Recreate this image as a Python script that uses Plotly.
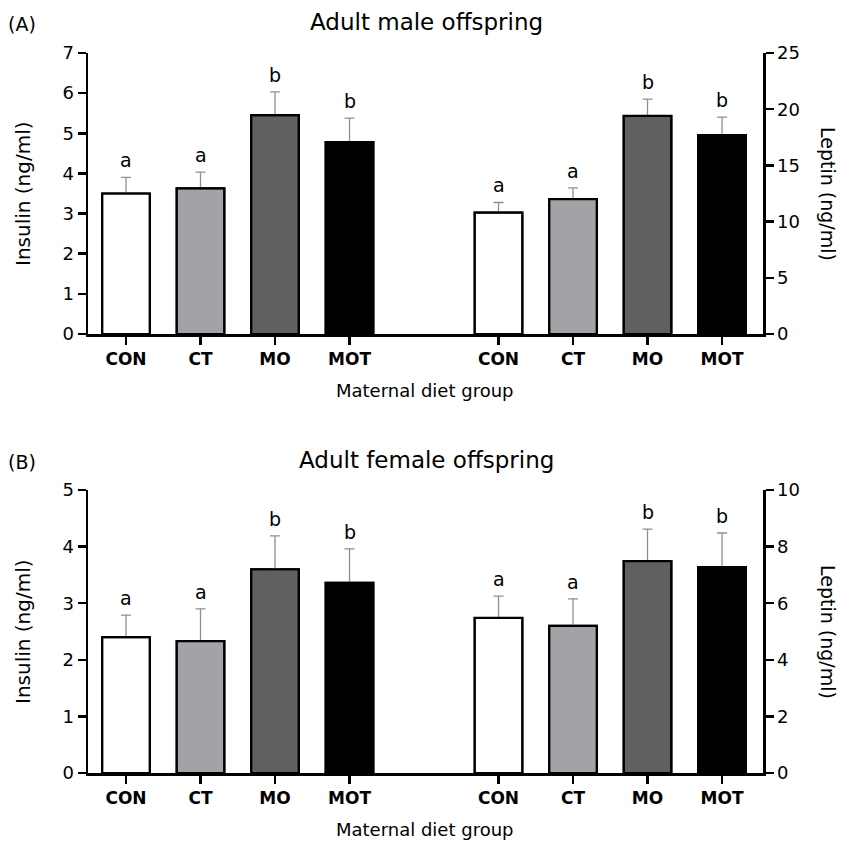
import plotly.graph_objects as go

# ---------------- data ----------------
categories = ["CON", "CT", "MO", "MOT"]
left_pos = [0, 1, 2, 3]
right_pos = [5, 6, 7, 8]

male_insulin = [3.50, 3.63, 5.45, 4.78]
male_insulin_err = [0.40, 0.40, 0.58, 0.60]
male_insulin_sig = ["a", "a", "b", "b"]

male_leptin = [10.8, 12.0, 19.4, 17.7]
male_leptin_err = [0.9, 1.0, 1.5, 1.6]
male_leptin_sig = ["a", "a", "b", "b"]

female_insulin = [2.40, 2.33, 3.60, 3.36]
female_insulin_err = [0.39, 0.57, 0.59, 0.60]
female_insulin_sig = ["a", "a", "b", "b"]

female_leptin = [5.48, 5.20, 7.49, 7.28]
female_leptin_err = [0.77, 0.95, 1.13, 1.20]
female_leptin_sig = ["a", "a", "b", "b"]

bar_colors = ["#ffffff", "#a2a2a7", "#606060", "#000000"]

W, H = 841, 843
FONT = "DejaVu Sans"

def px(x):
    return x / W

def py(y):
    return 1 - y / H

x_dom = [px(88), px(763)]
domA = [py(334), py(53)]
domB = [py(773), py(490)]

fig = go.Figure()

def add_bars(xpos, vals, errs, xa, ya):
    # filled bars carrying the (upward-only) error bars
    fig.add_trace(go.Bar(
        x=xpos, y=vals, xaxis=xa, yaxis=ya, width=0.64,
        marker=dict(color=bar_colors, line=dict(color="black", width=2)),
        error_y=dict(type="data", array=errs, arrayminus=[0] * len(errs),
                     symmetric=False, color="#8f8f8f", thickness=1.3, width=5),
        showlegend=False, hoverinfo="skip",
    ))
    # outline on top so the bar edge stays crisp black
    fig.add_trace(go.Bar(
        x=xpos, y=vals, xaxis=xa, yaxis=ya, width=0.64,
        marker=dict(color="rgba(0,0,0,0)", line=dict(color="black", width=2.2)),
        showlegend=False, hoverinfo="skip",
    ))

add_bars(left_pos, male_insulin, male_insulin_err, "x", "y")
add_bars(right_pos, male_leptin, male_leptin_err, "x", "y2")
add_bars(left_pos, female_insulin, female_insulin_err, "x2", "y3")
add_bars(right_pos, female_leptin, female_leptin_err, "x2", "y4")

annotations = []

def add_sig(xpos, vals, errs, sigs, xref, yref):
    for xp, v, e, s in zip(xpos, vals, errs, sigs):
        annotations.append(dict(
            x=xp, y=v + e, xref=xref, yref=yref, text=s, showarrow=False,
            yanchor="bottom", xanchor="center", yshift=4,
            font=dict(family=FONT, size=19, color="black")))

add_sig(left_pos, male_insulin, male_insulin_err, male_insulin_sig, "x", "y")
add_sig(right_pos, male_leptin, male_leptin_err, male_leptin_sig, "x", "y2")
add_sig(left_pos, female_insulin, female_insulin_err, female_insulin_sig, "x2", "y3")
add_sig(right_pos, female_leptin, female_leptin_err, female_leptin_sig, "x2", "y4")

def txt(x, y, text, size, xanchor="center", angle=0):
    annotations.append(dict(
        x=px(x), y=py(y), xref="paper", yref="paper", text=text, showarrow=False,
        xanchor=xanchor, yanchor="middle", textangle=angle,
        font=dict(family=FONT, size=size, color="black")))

txt(426, 22, "Adult male offspring", 23)
txt(6, 24, "(A)", 19, xanchor="left")
txt(425, 390, "Maternal diet group", 18)
txt(23, 194, "Insulin (ng/ml)", 20, angle=-90)
txt(828, 194, "Leptin (ng/ml)", 19, angle=90)

txt(426, 460, "Adult female offspring", 23)
txt(6, 462, "(B)", 19, xanchor="left")
txt(425, 829, "Maternal diet group", 18)
txt(23, 632, "Insulin (ng/ml)", 20, angle=-90)
txt(828, 632, "Leptin (ng/ml)", 19, angle=90)

tickvals = left_pos + right_pos
ticktext = categories + categories

xcommon = dict(domain=x_dom, range=[-0.51, 8.55], tickvals=tickvals, ticktext=ticktext,
               showline=True, linecolor="black", linewidth=2.5, ticks="outside",
               ticklen=8, tickwidth=2.5, tickcolor="black", showgrid=False, zeroline=False,
               tickfont=dict(family=FONT, size=17, color="black", weight="bold"),
               fixedrange=True, automargin=False)
ycommon = dict(showline=True, linecolor="black", linewidth=2.5, ticks="outside",
               ticklen=8, tickwidth=2.5, tickcolor="black", showgrid=False, zeroline=False,
               tickfont=dict(family=FONT, size=18, color="black"), fixedrange=True,
               automargin=False)

fig.update_layout(
    width=W, height=H,
    margin=dict(l=0, r=0, t=0, b=0, autoexpand=False),
    paper_bgcolor="white", plot_bgcolor="white",
    bargap=0, barmode="overlay",
    xaxis=dict(anchor="y", **xcommon),
    xaxis2=dict(anchor="y3", **xcommon),
    yaxis=dict(domain=domA, anchor="x", range=[0, 7], tickvals=[0, 1, 2, 3, 4, 5, 6, 7], **ycommon),
    yaxis2=dict(domain=domA, anchor="x", overlaying="y", side="right", range=[0, 25],
                tickvals=[0, 5, 10, 15, 20, 25], **ycommon),
    yaxis3=dict(domain=domB, anchor="x2", range=[0, 5], tickvals=[0, 1, 2, 3, 4, 5], **ycommon),
    yaxis4=dict(domain=domB, anchor="x2", overlaying="y3", side="right", range=[0, 10],
                tickvals=[0, 2, 4, 6, 8, 10], **ycommon),
    annotations=annotations,
)

fig.write_html("out.html",
               config={"displayModeBar": False, "staticPlot": True},
               post_script="document.body.style.margin='0px';"
                           "document.documentElement.style.overflow='hidden';")
